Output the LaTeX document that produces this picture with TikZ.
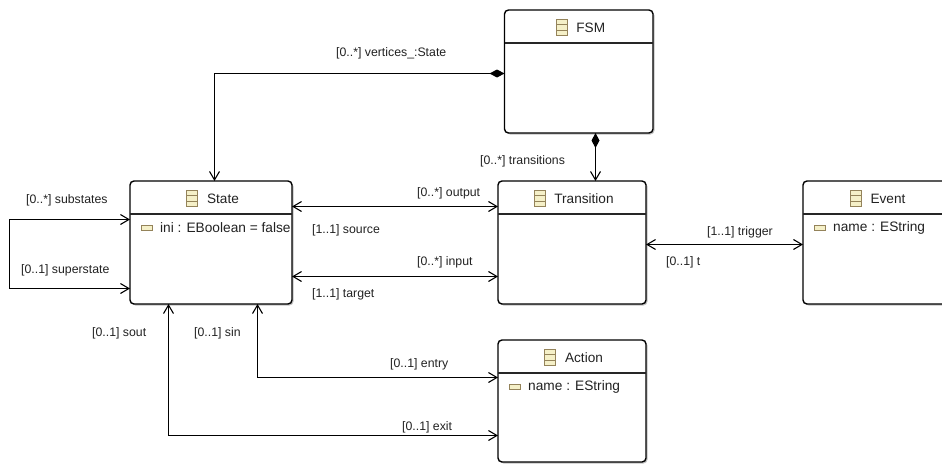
\documentclass[tikz,border=0pt]{standalone}
\usepackage{fontspec}
\setmainfont{Liberation Sans}
\usetikzlibrary{arrows.meta,shadows,calc}
\definecolor{iconfill}{HTML}{F5F0C8}
\definecolor{iconline}{HTML}{94835A}
\definecolor{ink}{HTML}{222222}
\tikzset{
  x=1pt,y=-1pt,
  umlbox/.style={draw=black,line width=1.4pt,rounded corners=4pt,fill=white,anchor=north west,inner sep=0pt,outer sep=0pt,
    drop shadow={shadow xshift=1.5pt,shadow yshift=-1.5pt,fill=black!35,opacity=.7}},
  titletext/.style={font=\fontsize{13.6pt}{15pt}\selectfont,text=ink,inner sep=0pt},
  attrtext/.style={font=\fontsize{13.7pt}{15pt}\selectfont,text=ink,inner sep=0pt,anchor=west},
  lbl/.style={font=\fontsize{12.3pt}{14pt}\selectfont,text=ink,inner sep=0pt,anchor=base west},
  assoc/.style={line width=1.2pt,draw=black,line join=miter},
  both/.style={assoc,{Straight Barb[length=8.5pt,width=10pt,line width=1.1pt]}-{Straight Barb[length=8.5pt,width=10pt,line width=1.1pt]}},
  comp/.style={assoc,{Diamond[length=15pt,width=8pt,fill=black]}-{Straight Barb[length=8.5pt,width=10pt,line width=1.1pt]}},
  sep/.style={line width=1.1pt,draw=black!85},
  icon/.style={draw=iconline,fill=iconfill,line width=.9pt},
}
\newcommand{\umlclass}[6]{% name x y w h title
  \node[umlbox,minimum width=#4pt,minimum height=#5pt] (#1) at (#2,#3) {};
  \draw[sep] ([yshift=-33pt]#1.north west) -- ([yshift=-33pt]#1.north east);
  \node[titletext,anchor=base] (#1-title) at ([xshift=12pt,yshift=-22.5pt]#1.north) {#6};
  \draw[icon] ([xshift=-20pt,yshift=-2.8pt]#1-title.base west) rectangle ([xshift=-9pt,yshift=13pt]#1-title.base west);
  \draw[icon,line width=.7pt] ([xshift=-20pt,yshift=2.5pt]#1-title.base west) -- ([xshift=-9pt,yshift=2.5pt]#1-title.base west);
  \draw[icon,line width=.7pt] ([xshift=-20pt,yshift=7.8pt]#1-title.base west) -- ([xshift=-9pt,yshift=7.8pt]#1-title.base west);
}
\newcommand{\umlattr}[3]{% box name attrname text
  \node[attrtext] (#2) at ([xshift=30pt,yshift=-46.5pt]#1.north west) {#3};
  \draw[icon] ([xshift=-19pt,yshift=-3pt]#2.west) rectangle ([xshift=-7.5pt,yshift=2pt]#2.west);
}
\begin{document}
\begin{tikzpicture}
\useasboundingbox (0,0) rectangle (942,463);
\umlclass{FSM}{504.5}{10}{148.5}{123}{FSM}
\umlclass{State}{130}{181}{162}{123}{State}
\umlclass{Transition}{498}{181}{148}{123}{Transition}
\umlclass{Event}{803}{181}{146}{123}{Event}
\umlclass{Action}{498}{340}{148}{122}{Action}
\umlattr{State}{stateini}{ini : EBoolean = false}
\umlattr{Event}{eventname}{name : EString}
\umlattr{Action}{actionname}{name : EString}
% connectors
\draw[comp] ([yshift=-2pt]FSM.west) -| ([xshift=84.5pt]State.north west);
\draw[comp] ([xshift=91pt]FSM.south west) -- ([xshift=97.5pt]Transition.north west);
\draw[both] ([yshift=-25.5pt]State.north east) -- ([yshift=-25.5pt]Transition.north west);
\draw[both] ([yshift=-95.5pt]State.north east) -- ([yshift=-95.5pt]Transition.north west);
\draw[both] ([yshift=-63.5pt]Transition.north east) -- ([yshift=-63.5pt]Event.north west);
\draw[both] ([yshift=-38.5pt]State.north west) -- ++(-120.5,0) |- ([yshift=-107.5pt]State.north west);
\draw[both] ([xshift=38.5pt]State.south west) |- ([yshift=-95.5pt]Action.north west);
\draw[both] ([xshift=127.5pt]State.south west) |- ([yshift=-37.5pt]Action.north west);
% labels
\node[lbl] (l1) at (336,56) {[0..*] vertices\_:State};
\node[lbl] (l2) at (480,164) {[0..*] transitions};
\node[lbl] (l3) at (417,196) {[0..*] output};
\node[lbl] (l4) at (312,233) {[1..1] source};
\node[lbl] (l5) at (417,265) {[0..*] input};
\node[lbl] (l6) at (312,297) {[1..1] target};
\node[lbl] (l7) at (707,235) {[1..1] trigger};
\node[lbl] (l8) at (666,265) {[0..1] t};
\node[lbl] (l9) at (26,203) {[0..*] substates};
\node[lbl] (l10) at (21,273) {[0..1] superstate};
\node[lbl] (l11) at (92,336) {[0..1] sout};
\node[lbl] (l12) at (194,336) {[0..1] sin};
\node[lbl] (l13) at (390,367) {[0..1] entry};
\node[lbl] (l14) at (402,430) {[0..1] exit};
\end{tikzpicture}
\end{document}
